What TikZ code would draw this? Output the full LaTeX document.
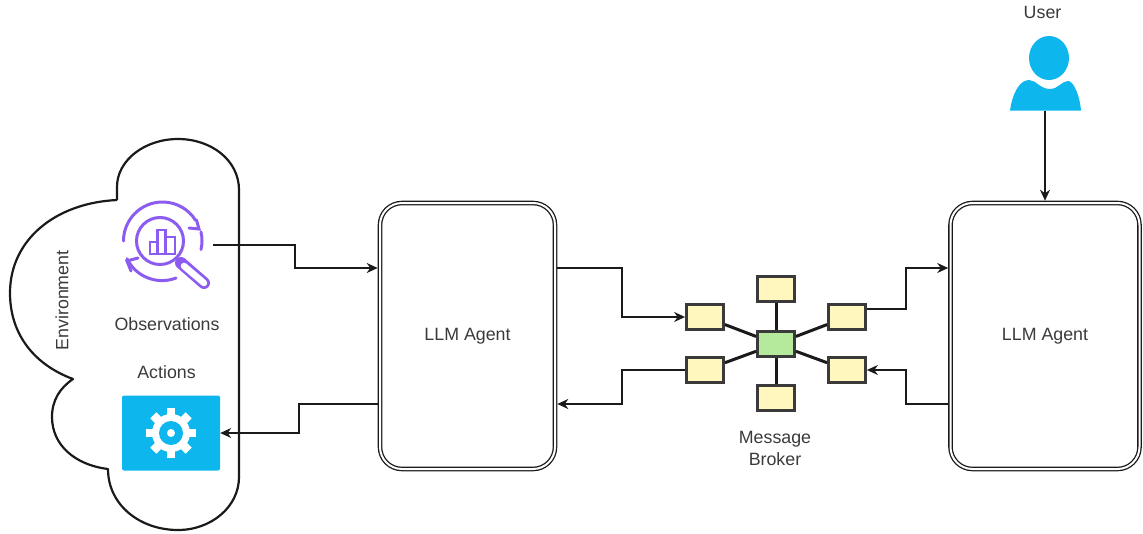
\documentclass[tikz,border=0pt]{standalone}
\usepackage{fontspec}
\setmainfont{Liberation Sans}
\usetikzlibrary{arrows.meta}

\definecolor{inktext}{HTML}{3A3A3A}
\definecolor{inkline}{HTML}{1A1A1A}
\definecolor{iconblue}{HTML}{0DB7ED}
\definecolor{iconpurple}{HTML}{8C5CF0}
\definecolor{slotyellow}{HTML}{FFF7BE}
\definecolor{hubgreen}{HTML}{B5E99B}

\tikzset{
    label text/.style={text=inktext, font=\fontsize{17.8}{22}\selectfont, align=center, inner sep=0pt},
    agent/.style={draw=inkline, line width=1.3pt, double, double distance=2pt, rounded corners=22pt,
        minimum height=266pt, outer sep=2.3pt, inner sep=0pt, text=inktext,
        font=\fontsize{17.8}{22}\selectfont},
    slot/.style={draw=inktext, line width=2.8pt, fill=slotyellow, minimum width=37pt, minimum height=25pt, inner sep=0pt},
    hub/.style={slot, fill=hubgreen},
    spoke/.style={draw=inkline, line width=3pt},
    link/.style={draw=inkline, line width=1.3pt, -{Stealth[length=11pt,width=10pt]}},
    icon line/.style={draw=iconpurple, line width=3pt, line cap=round}
}

\begin{document}
\begin{tikzpicture}[x=1pt, y=-1pt]
    \useasboundingbox (0, 0) rectangle (1143, 533);

    % environment cloud
    \draw[inkline, line width=2.2pt, line join=round] (117, 200) -- (117, 187)
        .. controls (117, 160) and (145, 139) .. (178, 139)
        .. controls (211, 139) and (239, 160) .. (239, 190)
        -- (239, 477)
        .. controls (239, 507) and (211, 530) .. (178, 530)
        .. controls (140, 530) and (108, 505) .. (108, 469)
        .. controls (75, 465) and (52, 445) .. (52, 417)
        .. controls (52, 400) and (60, 388) .. (73, 379)
        .. controls (35, 365) and (10, 335) .. (10, 293)
        .. controls (10, 240) and (55, 203) .. (117, 200);
    \node[label text, rotate=90] (envlabel) at (62, 298) { Environment };

    % observations icon
    \node[minimum width=102pt, minimum height=90pt, inner sep=0pt] (obsicon) at (162, 245) {};
    \draw[icon line] (123.5, 241) arc[start angle=180, end angle=32, x radius=39, y radius=-39];
    \draw[icon line] (196.5, 220) -- (199, 229) -- (189, 228);
    \draw[icon line] (201, 232) arc[start angle=13, end angle=-13, x radius=39, y radius=-39];
    \draw[icon line] (176, 278) arc[start angle=-69, end angle=-154, x radius=39, y radius=-39];
    \draw[icon line] (138, 258) -- (127, 261) -- (131, 271);
    \draw[icon line] (160, 241) circle[radius=23.5];
    \draw[line width=12pt, iconpurple, line cap=round] (181, 263) -- (204, 283);
    \draw[line width=6.5pt, white, line cap=round] (184, 266) -- (204, 283);
    \draw[iconpurple, line width=2.6pt] (150, 242) rectangle (157.5, 254);
    \draw[iconpurple, line width=2.6pt] (157.5, 230) rectangle (165.5, 254);
    \draw[iconpurple, line width=2.6pt] (165.5, 237) rectangle (175, 254);
    \node[label text] (obslabel) at (169.5, 324.5) { Observations };

    % actions icon
    \node[label text] (actlabel) at (169, 372.5) { Actions };
    \node[fill=iconblue, rounded corners=2pt, minimum width=98pt, minimum height=75pt, inner sep=0pt] (acticon) at (171, 433) {};
    \fill[white] (acticon.center) circle[radius=19];
    \draw[white, line width=8.5pt] (146, 433) -- (196, 433);
    \draw[white, line width=8.5pt] (171, 408) -- (171, 458);
    \draw[white, line width=8.5pt] (153.3, 415.3) -- (188.7, 450.7);
    \draw[white, line width=8.5pt] (153.3, 450.7) -- (188.7, 415.3);
    \fill[iconblue] (acticon.center) circle[radius=12];
    \fill[white] (acticon.center) circle[radius=4];

    % agents
    \node[agent, minimum width=175pt] (agentA) at (467.5, 336) { LLM Agent };
    \node[agent, minimum width=189pt] (agentB) at (1045, 336) { LLM Agent };

    % message broker
    \node[hub] (hubC) at (776, 344) {};
    \node[slot] (slotT) at (776, 289) {};
    \node[slot] (slotB) at (776, 398) {};
    \node[slot] (slotLU) at (705, 317) {};
    \node[slot] (slotLD) at (705, 370) {};
    \node[slot] (slotRU) at (847, 317) {};
    \node[slot] (slotRD) at (847, 370) {};
    \draw[spoke] (hubC) -- (slotT);
    \draw[spoke] (hubC) -- (slotB);
    \draw[spoke] (hubC) -- (slotLU);
    \draw[spoke] (hubC) -- (slotLD);
    \draw[spoke] (hubC) -- (slotRU);
    \draw[spoke] (hubC) -- (slotRD);
    \node[label text] (brokerlabel) at (775, 448) { Message\\Broker };

    % user
    \node[label text] (userlabel) at (1045, 12) { User };
    \node[minimum width=71pt, minimum height=75pt, inner sep=0pt] (usericon) at (1045, 73) {};
    \fill[iconblue] (1049, 58) ellipse[x radius=20, y radius=22];
    \fill[iconblue] (1010, 110.5)
        .. controls (1012, 95) and (1019, 80) .. (1029, 80)
        .. controls (1036, 80) and (1040, 89) .. (1050, 89)
        .. controls (1058, 89) and (1062, 81) .. (1068, 81)
        .. controls (1074, 81) and (1080, 97) .. (1081, 110.5) -- cycle;

    % connector ends on the agents
    \coordinate (agentAin) at ([yshift=68pt]agentA.west);
    \coordinate (agentAout) at ([yshift=-68pt]agentA.west);
    \coordinate (agentAright) at ([yshift=68pt]agentA.east);
    \coordinate (agentAback) at ([yshift=-68pt]agentA.east);
    \coordinate (agentBin) at ([yshift=68pt]agentB.west);
    \coordinate (agentBout) at ([yshift=-68pt]agentB.west);
    \coordinate (slotRUout) at ([yshift=8pt]slotRU.east);

    \draw[link] (obsicon.east) -- (295, 245) -- (295, 268) -- (agentAin);
    \draw[link] (agentAout) -- (299, 404) -- (299, 433) -- (acticon.east);
    \draw[link] (agentAright) -- (622, 268) -- (622, 317) -- (slotLU.west);
    \draw[link] (slotLD.west) -- (622, 370) -- (622, 404) -- (agentAback);
    \draw[link] (slotRUout) -- (906, 309) -- (906, 268) -- (agentBin);
    \draw[link] (agentBout) -- (906, 404) -- (906, 370) -- (slotRD.east);
    \draw[link] (usericon.south) -- (agentB.north);
\end{tikzpicture}
\end{document}
